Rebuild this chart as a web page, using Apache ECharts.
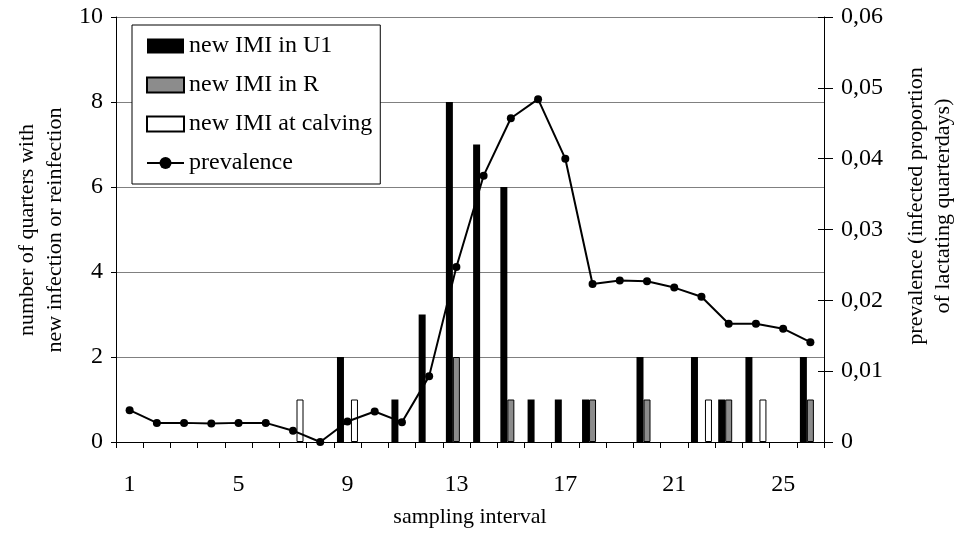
<!DOCTYPE html>
<html>
<head>
<meta charset="utf-8">
<script src="https://cdn.jsdelivr.net/npm/echarts@6/dist/echarts.min.js"></script>
<style>html,body{margin:0;padding:0;background:#fff}#c{width:960px;height:546px}</style>
</head>
<body>
<div id="c"></div>
<script>
var categories = ['1','2','3','4','5','6','7','8','9','10','11','12','13','14','15','16','17','18','19','20','21','22','23','24','25','26'];
var newU1 =      [0,0,0,0,0,0,0,0,2,0,1,3,8,7,6,1,1,1,0,2,0,2,1,2,0,2];
var newR =       [0,0,0,0,0,0,0,0,0,0,0,0,2,0,1,0,0,1,0,1,0,0,1,0,0,1];
var newCalving = [0,0,0,0,0,0,1,0,1,0,0,0,0,0,0,0,0,0,0,0,0,1,0,1,0,0];
var prevalence = [0.0045,0.0027,0.0027,0.0026,0.0027,0.0027,0.0016,0,0.0029,0.0043,0.0028,0.0093,0.0247,0.0376,0.0457,0.0484,0.0400,0.0223,0.0228,0.0227,0.0218,0.0205,0.0167,0.0167,0.0160,0.0141];
var seriesNames = ['new IMI in U1','new IMI in R','new IMI at calving','prevalence'];

var FONT = 'Liberation Serif';
function nz(a){ return a.map(function(v){ return v === 0 ? '-' : v; }); }

var chart = echarts.init(document.getElementById('c'), null, {renderer:'canvas'});
chart.setOption({
  animation: false,
  backgroundColor: '#fff',
  textStyle: {fontFamily: FONT, color: '#000'},
  grid: {left: 116, right: 136, top: 17, bottom: 104},
  legend: {
    orient: 'vertical', left: 132, top: 25,
    padding: [9, 8, 9, 14], itemGap: 15,
    itemWidth: 37, itemHeight: 15,
    backgroundColor: '#fff', borderColor: '#000', borderWidth: 1,
    textStyle: {fontFamily: FONT, fontSize: 24, color: '#000', padding: [4,0,0,0]},
    data: [
      {name: seriesNames[0], icon: 'rect'},
      {name: seriesNames[1], icon: 'rect'},
      {name: seriesNames[2], icon: 'rect'},
      {name: seriesNames[3]}
    ]
  },
  xAxis: {
    type: 'category', data: categories,
    axisLine: {lineStyle: {color: '#000', width: 1}},
    axisTick: {show: true, interval: 0, length: 6, lineStyle: {color: '#000'}},
    axisLabel: {interval: 3, margin: 31, fontFamily: FONT, fontSize: 24, color: '#000'},
    splitLine: {show: false}
  },
  yAxis: [
    {
      type: 'value', min: 0, max: 10, interval: 2, position: 'left',
      axisLine: {show: true, lineStyle: {color: '#000'}},
      axisTick: {show: true, length: 5, lineStyle: {color: '#000'}},
      axisLabel: {margin: 13, fontFamily: FONT, fontSize: 24, color: '#000'},
      splitLine: {show: true, lineStyle: {color: '#808080', width: 1}}
    },
    {
      type: 'value', min: 0, max: 0.06, interval: 0.01, position: 'right',
      axisLine: {show: true, lineStyle: {color: '#000'}},
      axisTick: {show: true, length: 9, lineStyle: {color: '#000'}},
      axisLabel: {margin: 17, fontFamily: FONT, fontSize: 24, color: '#000',
        formatter: function(v){ return v === 0 ? '0' : v.toFixed(2).replace('.', ','); }},
      splitLine: {show: false}
    },
    {
      type: 'value', min: 0, max: 0.06, interval: 0.01, position: 'right',
      axisLine: {show: false},
      axisTick: {show: true, inside: true, length: 6, lineStyle: {color: '#000'}},
      axisLabel: {show: false},
      splitLine: {show: false}
    }
  ],
  series: [
    {name: seriesNames[0], type: 'bar', data: nz(newU1), barWidth: 7, barGap: '0%',
      itemStyle: {color: '#000', borderColor: '#000', borderWidth: 0}},
    {name: seriesNames[1], type: 'bar', data: nz(newR), barWidth: 7, barGap: '0%',
      itemStyle: {color: '#8c8c8c', borderColor: '#000', borderWidth: 1}},
    {name: seriesNames[2], type: 'bar', data: nz(newCalving), barWidth: 7, barGap: '0%',
      itemStyle: {color: '#fff', borderColor: '#000', borderWidth: 1}},
    {name: seriesNames[3], type: 'line', yAxisIndex: 1, data: prevalence,
      symbol: 'circle', symbolSize: 8, showSymbol: true,
      lineStyle: {color: '#000', width: 2}, itemStyle: {color: '#000'}, z: 5}
  ],
  graphic: [
    {type: 'text', x: 41, y: 230, rotation: Math.PI/2,
      style: {text: 'number of quarters with\nnew infection or reinfection', x: 0, y: 0, align: 'center', verticalAlign: 'middle',
        font: '22px "Liberation Serif"', fill: '#000', lineHeight: 28}},
    {type: 'text', x: 930, y: 206, rotation: Math.PI/2,
      style: {text: 'prevalence (infected proportion\nof lactating quarterdays)', x: 0, y: 0, align: 'center', verticalAlign: 'middle',
        font: '22px "Liberation Serif"', fill: '#000', lineHeight: 27}},
    {type: 'text', x: 470, y: 517,
      style: {text: 'sampling interval', x: 0, y: 0, align: 'center', verticalAlign: 'middle',
        font: '22px "Liberation Serif"', fill: '#000'}}
  ]
});
</script>
</body>
</html>
